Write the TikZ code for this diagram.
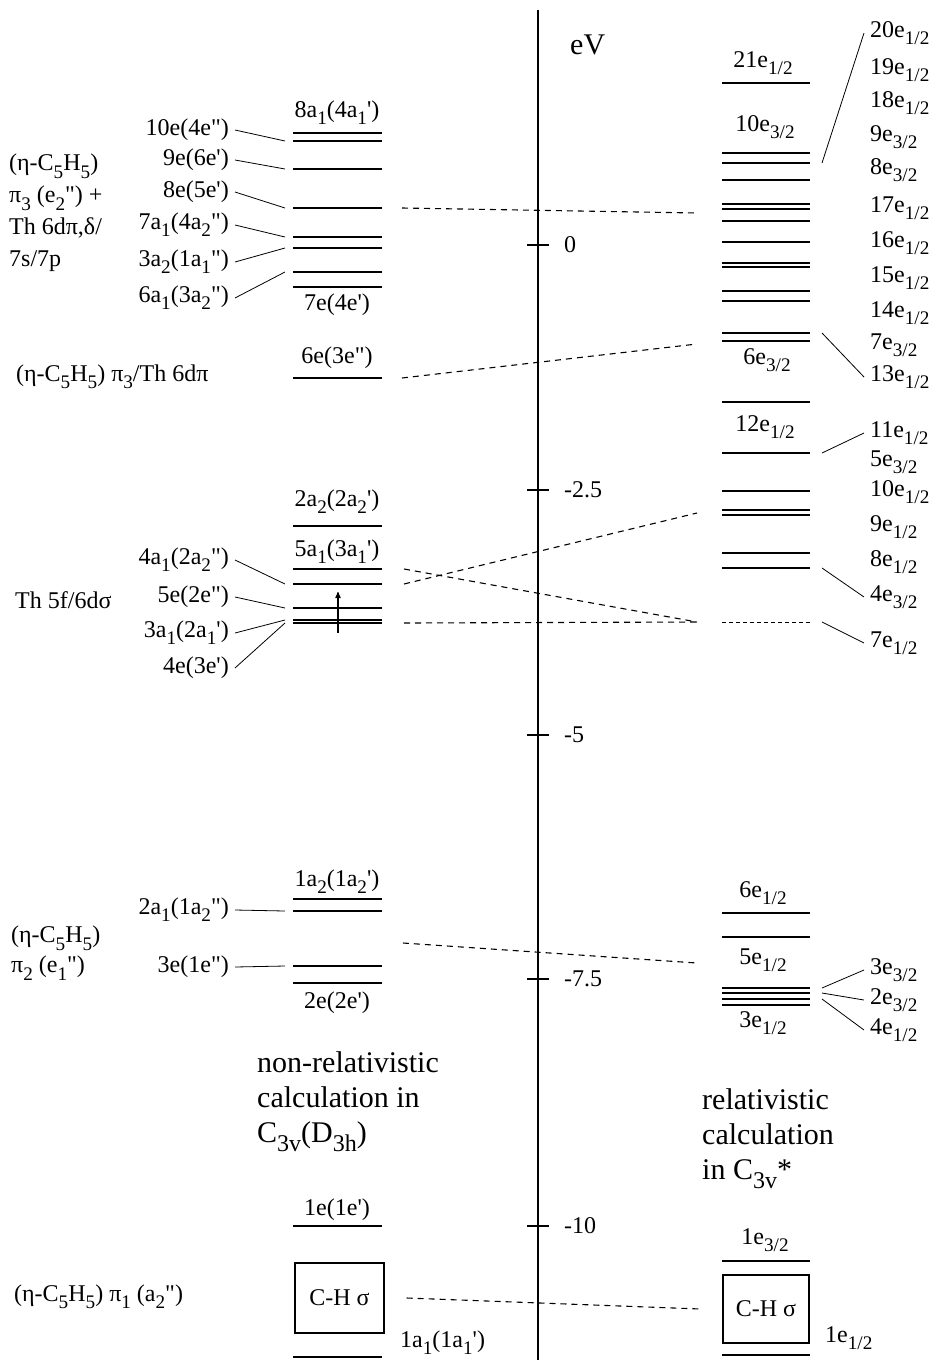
\documentclass[tikz,border=0pt]{standalone}
\usepackage{graphicx}
\usepackage{fontspec}
\setmainfont{Liberation Serif}[Ligatures=TeXOff]
\usetikzlibrary{arrows}
\newcommand{\lo}[1]{\raisebox{-0.3em}{\scalebox{0.8}{#1}}}

\begin{document}
\begin{tikzpicture}[x=1pt,y=-1pt,
    lvl/.style={line width=1.6pt},
    tie/.style={line width=0.8pt},
    corr/.style={line width=1.1pt, dash pattern=on 6pt off 5pt},
    big/.style={font=\fontsize{30}{35}\selectfont, align=left},
    every node/.style={font=\fontsize{24}{28}\selectfont, inner sep=0pt}]
    \useasboundingbox (0,0) rectangle (935,1360);

    \draw[line width=1.4pt] (538,10) -- (538,1360);
    \foreach \y/\t in {245/0, 490/-2.5, 735/-5, 979/-7.5, 1226/-10} {
        \draw[line width=1.4pt] (527,\y) -- (549,\y);
        \node[anchor=west] (tick\y) at (564,\y) {\t};
    }
    \node[anchor=west, font=\fontsize{30}{36}\selectfont] (eV) at (570,45) {eV};

    \foreach \n/\y in {8a1/133, 10e/141, 9e/169, 8e/208, 7a1/237, 3a2/248,
                       6a1/272, 7e/287, 6e/378, 2a2/526, 5a1/569, 4a1/584,
                       5e/608, 3a1/620, 4e/623, 1a2/899, 2a1/911, 3e/966,
                       2e/983, 1e/1226, 1a1/1357}
        \draw[lvl] (293,\y) coordinate (l\n L) -- (382,\y) coordinate (l\n R);

    \foreach \y in {83, 153, 163, 180, 204, 209, 221, 242, 263, 267, 291, 301,
                    333, 341, 402, 453, 491, 510, 515, 553, 568, 913, 937,
                    988, 993, 999, 1005, 1261, 1355}
        \draw[lvl] (722,\y) coordinate (r\y L) -- (810,\y) coordinate (r\y R);
    \draw[corr, line width=1pt, dash pattern=on 4pt off 3pt] (722,622) coordinate (r622L) -- (810,622) coordinate (r622R);

    \begin{scope}[every node/.append style={anchor=east}]
        \node (t10e) at (229,130) {10e(4e")};
        \node (t9e) at (229,160) {9e(6e')};
        \node (t8e) at (229,192) {8e(5e')};
        \node (t7a1) at (229,225) {7a\lo{1}(4a\lo{2}")};
        \node (t3a2) at (229,262) {3a\lo{2}(1a\lo{1}")};
        \node (t6a1) at (229,298) {6a\lo{1}(3a\lo{2}")};
        \node (t4a1) at (229,560) {4a\lo{1}(2a\lo{2}")};
        \node (t5e) at (229,597) {5e(2e")};
        \node (t3a1) at (229,633) {3a\lo{1}(2a\lo{1}')};
        \node (t4e) at (229,668) {4e(3e')};
        \node (t2a1) at (229,910) {2a\lo{1}(1a\lo{2}")};
        \node (t3e) at (229,967) {3e(1e")};
    \end{scope}

    \begin{scope}[every node/.append style={anchor=center}]
        \node (a8a1) at (337,113) {8a\lo{1}(4a\lo{1}')};
        \node (a7e) at (337,305) {7e(4e')};
        \node (a6e) at (337,358) {6e(3e")};
        \node (a2a2) at (337,502) {2a\lo{2}(2a\lo{2}')};
        \node (a5a1) at (337,552) {5a\lo{1}(3a\lo{1}')};
        \node (a1a2) at (337,882) {1a\lo{2}(1a\lo{2}')};
        \node (a2e) at (337,1003) {2e(2e')};
        \node (a1e) at (337,1210) {1e(1e')};
        \node (b21) at (763,63) {21e\lo{1/2}};
        \node (b10) at (765,127) {10e\lo{3/2}};
        \node (b6) at (767,360) {6e\lo{3/2}};
        \node (b12) at (765,427) {12e\lo{1/2}};
        \node (b6h) at (763,893) {6e\lo{1/2}};
        \node (b5h) at (763,960) {5e\lo{1/2}};
        \node (b3h) at (763,1023) {3e\lo{1/2}};
        \node (b1q) at (765,1240) {1e\lo{3/2}};
    \end{scope}
    \node[anchor=west] (a1a1) at (400,1343) {1a\lo{1}(1a\lo{1}')};
    \node[anchor=west] (b1h) at (825,1338) {1e\lo{1/2}};

    \begin{scope}[every node/.append style={anchor=west}]
        \node (u20) at (870,33) {20e\lo{1/2}};
        \node (u19) at (870,70) {19e\lo{1/2}};
        \node (u18) at (870,103) {18e\lo{1/2}};
        \node (u9q) at (870,137) {9e\lo{3/2}};
        \node (u8q) at (870,170) {8e\lo{3/2}};
        \node (u17) at (870,208) {17e\lo{1/2}};
        \node (u16) at (870,243) {16e\lo{1/2}};
        \node (u15) at (870,278) {15e\lo{1/2}};
        \node (u14) at (870,313) {14e\lo{1/2}};
        \node (u7q) at (870,345) {7e\lo{3/2}};
        \node (u13) at (870,377) {13e\lo{1/2}};
        \node (u11) at (870,433) {11e\lo{1/2}};
        \node (u5q) at (870,462) {5e\lo{3/2}};
        \node (u10) at (870,492) {10e\lo{1/2}};
        \node (u9) at (870,527) {9e\lo{1/2}};
        \node (u8) at (870,562) {8e\lo{1/2}};
        \node (u4q) at (870,597) {4e\lo{3/2}};
        \node (u7) at (870,643) {7e\lo{1/2}};
        \node (u3q) at (870,970) {3e\lo{3/2}};
        \node (u2q) at (870,1000) {2e\lo{3/2}};
        \node (u4) at (870,1030) {4e\lo{1/2}};
    \end{scope}

    \node[anchor=north west, align=left, font=\fontsize{24}{32}\selectfont] (gPi3) at (9,154)
        {(η-C\lo{5}H\lo{5})\\ π\lo{3} (e\lo{2}") +\\ Th 6dπ,δ/\\ 7s/7p};
    \node[anchor=west] (gPi3b) at (16,377) {(η-C\lo{5}H\lo{5}) π\lo{3}/Th 6dπ};
    \node[anchor=west] (gTh) at (15,600) {Th 5f/6dσ};
    \node[anchor=north west, align=left, font=\fontsize{24}{30}\selectfont] (gPi2) at (11,926)
        {(η-C\lo{5}H\lo{5})\\ π\lo{2} (e\lo{1}")};
    \node[anchor=west] (gPi1) at (14,1297) {(η-C\lo{5}H\lo{5}) π\lo{1} (a\lo{2}")};

    \node[big, anchor=north west] (nonrel) at (257,1051)
        {non-relativistic\\ calculation in\\ C\lo{3v}(D\lo{3h})};
    \node[big, anchor=north west] (rel) at (702,1088)
        {relativistic\\ calculation\\ in C\lo{3v}*};

    \node[draw, line width=1.2pt, minimum width=89pt, minimum height=70pt] (boxL) at (339.5,1298) {C-H σ};
    \node[draw, line width=1.2pt, minimum width=86pt, minimum height=68pt] (boxR) at (766,1309) {C-H σ};

    \draw[->, >=stealth', line width=1.2pt] (338,633) -- (338,592);

    \foreach \t/\l in {t10e/l10eL, t9e/l9eL, t8e/l8eL, t7a1/l7a1L, t3a2/l3a2L,
                       t6a1/l6a1L, t4a1/l4a1L, t5e/l5eL, t3a1/l3a1L, t4e/l4eL,
                       t2a1/l2a1L, t3e/l3eL}
        \draw[tie] ([xshift=6pt]\t.east) -- ([xshift=-8pt]\l);
    \foreach \r/\u in {r163R/u20, r333R/u13, r453R/u11, r568R/u4q, r622R/u7,
                       r988R/u3q, r993R/u2q, r999R/u4}
        \draw[tie] ([xshift=12pt]\r) -- ([xshift=-6pt]\u.west);

    \coordinate (e8e) at (697,213);
    \coordinate (e6e) at (697,344);
    \coordinate (e4a1) at (697,513);
    \coordinate (e5a1) at (697,622);
    \coordinate (sPi2) at (403,943);
    \coordinate (ePi2) at (697,963);
    \draw[corr] ([xshift=20pt]l8eR) -- (e8e);
    \draw[corr] ([xshift=20pt]l6eR) -- (e6e);
    \draw[corr] ([xshift=22pt]l4a1R) -- (e4a1);
    \draw[corr] ([xshift=22pt]l5a1R) -- (e5a1);
    \draw[corr] ([xshift=22pt]l4eR) -- (e5a1);
    \draw[corr] (sPi2) -- (ePi2);
    \draw[corr] ([xshift=22pt]boxL.east) -- ([xshift=-22pt]boxR.west);
\end{tikzpicture}
\end{document}
